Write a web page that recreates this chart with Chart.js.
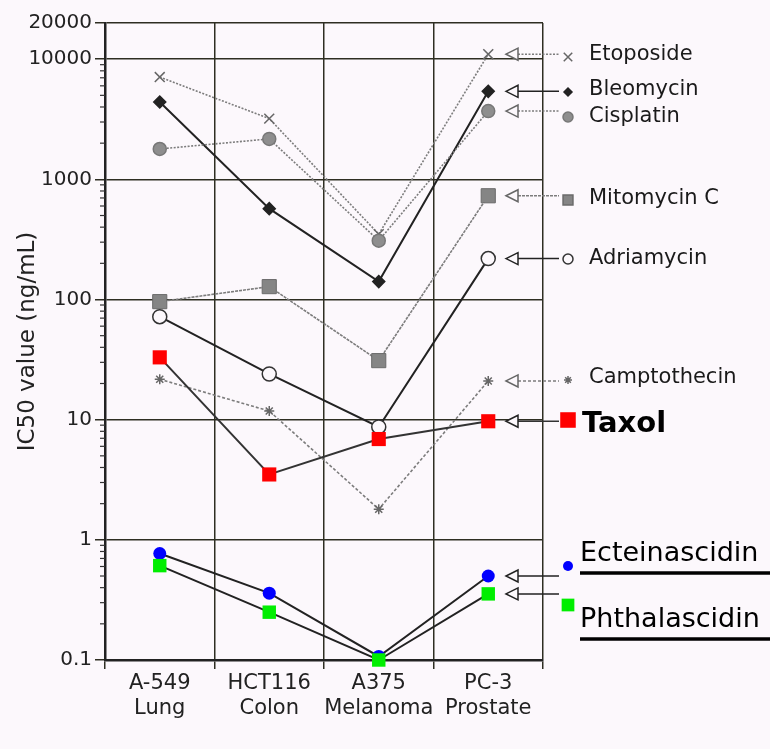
<!DOCTYPE html>
<html>
<head>
<meta charset="utf-8">
<script src="https://cdn.jsdelivr.net/npm/chart.js@4.4.0/dist/chart.umd.min.js"></script>
<style>
  html, body { margin: 0; padding: 0; background: #fcf8fc; }
  #wrap { position: relative; width: 770px; height: 749px; }
</style>
</head>
<body>
<div id="wrap"><canvas id="ic50Chart"></canvas></div>
<script>
// cell lines on the x axis
const cellLines = [["A-549", "Lung"], ["HCT116", "Colon"], ["A375", "Melanoma"], ["PC-3", "Prostate"]];

// y axis ticks (log scale)
const yTicks = [0.1, 1, 10, 100, 1000, 10000, 20000];
const yTickLabels = ["0.1", "1", "10", "100", "1000", "10000", "20000"];
const yMinorTicks = [0.2, 0.3, 0.4, 0.5, 0.6, 0.7, 0.8, 0.9,
                     2, 3, 4, 5, 6, 7, 8, 9,
                     20, 30, 40, 50, 60, 70, 80, 90,
                     200, 300, 400, 500, 600, 700, 800, 900,
                     2000, 3000, 4000, 5000, 6000, 7000, 8000, 9000];

// IC50 values (ng/mL) per cell line
const etoposide     = [7100, 3200, 350, 11000];
const bleomycin     = [4400, 570, 141, 5400];
const cisplatin     = [1790, 2170, 309, 3700];
const mitomycinC    = [96, 128, 31, 730];
const adriamycin    = [72, 24, 8.7, 219];
const camptothecin  = [21.7, 11.8, 1.8, 21];
const taxol         = [33, 3.5, 6.9, 9.7];
const ecteinascidin = [0.77, 0.36, 0.107, 0.50];
const phthalascidin = [0.61, 0.25, 0.1, 0.355];

// right side labels: pixel layout
const noteMarkerY = [57, 92, 117, 200, 259, 380, 420, 566, 605];
const noteTextY   = [55, 90, 117, 199, 259, 378, 424, 554, 620];

const FONT = "'DejaVu Sans', sans-serif";
const GRAY = "#7c7c7c";
const DARK = "#222";

function series(label, data, o) {
    return Object.assign({
        label: label,
        data: data,
        borderWidth: 1.6,
        pointBorderWidth: 1.5,
        clip: false,
        tension: 0
    }, o);
}

const datasets = [
    series("Etoposide", etoposide, {
        borderColor: GRAY, borderDash: [2, 1.5],
        pointStyle: "crossRot", pointRadius: 7, pointBorderColor: "#666", pointBackgroundColor: "#666",
        noteRadius: 6, order: 9
    }),
    series("Bleomycin", bleomycin, {
        borderColor: DARK, borderWidth: 2,
        pointStyle: "rectRot", pointRadius: 6, pointBorderColor: DARK, pointBackgroundColor: DARK,
        noteRadius: 4, order: 8
    }),
    series("Cisplatin", cisplatin, {
        borderColor: GRAY, borderDash: [2, 1.5],
        pointStyle: "circle", pointRadius: 6.5, pointBorderColor: "#777", pointBackgroundColor: "#8e8e8e",
        noteRadius: 5, order: 7
    }),
    series("Mitomycin C", mitomycinC, {
        borderColor: GRAY, borderDash: [3, 1],
        pointStyle: "rect", pointRadius: 10, pointBorderColor: "#6a6a6a", pointBorderWidth: 1, pointBackgroundColor: "#858585",
        noteRadius: 7, order: 6
    }),
    series("Adriamycin", adriamycin, {
        borderColor: DARK, borderWidth: 2,
        pointStyle: "circle", pointRadius: 7, pointBorderColor: "#333", pointBackgroundColor: "#fcf8fc",
        noteRadius: 5, order: 5
    }),
    series("Camptothecin", camptothecin, {
        borderColor: GRAY, borderDash: [3, 2],
        pointStyle: "star", pointRadius: 5, pointBorderColor: "#666", pointBackgroundColor: "#666",
        noteRadius: 4, order: 4
    }),
    series("Taxol", taxol, {
        borderColor: "#333", borderWidth: 2,
        pointStyle: "rect", pointRadius: 10, pointBorderWidth: 0, pointBorderColor: "#ff0000", pointBackgroundColor: "#ff0000",
        noteRadius: 11, order: 1
    }),
    series("Ecteinascidin", ecteinascidin, {
        borderColor: DARK, borderWidth: 2,
        pointStyle: "circle", pointRadius: 6.5, pointBorderWidth: 0, pointBorderColor: "#0000ff", pointBackgroundColor: "#0000ff",
        noteRadius: 5, order: 3
    }),
    series("Phthalascidin", phthalascidin, {
        borderColor: DARK, borderWidth: 2,
        pointStyle: "rect", pointRadius: 9.5, pointBorderWidth: 0, pointBorderColor: "#00ee00", pointBackgroundColor: "#00ee00",
        noteRadius: 9, order: 2
    })
];

// background colour
const bgPlugin = {
    id: "bg",
    beforeDraw(chart) {
        const ctx = chart.ctx;
        ctx.save();
        ctx.fillStyle = "#fcf8fc";
        ctx.fillRect(0, 0, chart.width, chart.height);
        ctx.restore();
    }
};

// minor ticks on the log axis
const minorTickPlugin = {
    id: "minorTicks",
    afterDraw(chart) {
        const s = chart.scales.y;
        const ctx = chart.ctx;
        ctx.save();
        ctx.strokeStyle = "#333";
        ctx.lineWidth = 1.2;
        yMinorTicks.forEach(function (v) {
            const y = s.getPixelForValue(v);
            ctx.beginPath();
            ctx.moveTo(s.right - 5, y);
            ctx.lineTo(s.right, y);
            ctx.stroke();
        });
        ctx.restore();
    }
};

// arrows + labels on the right
const notesPlugin = {
    id: "notes",
    afterDraw(chart) {
        const ctx = chart.ctx;
        ctx.save();
        chart.data.datasets.forEach(function (ds, i) {
            const meta = chart.getDatasetMeta(i);
            const arrowY = meta.data[meta.data.length - 1].y;
            const mx = 568;
            const my = noteMarkerY[i];

            // connector
            ctx.strokeStyle = ds.borderColor;
            ctx.lineWidth = 1.5;
            ctx.setLineDash(ds.borderDash || []);
            ctx.beginPath();
            ctx.moveTo(518, arrowY);
            ctx.lineTo(mx - 9, arrowY);
            ctx.stroke();
            ctx.setLineDash([]);

            // open arrow head
            ctx.fillStyle = "#fcf8fc";
            ctx.strokeStyle = ds.borderColor === GRAY ? "#666" : DARK;
            ctx.beginPath();
            ctx.moveTo(506, arrowY);
            ctx.lineTo(518, arrowY - 6);
            ctx.lineTo(518, arrowY + 6);
            ctx.closePath();
            ctx.fill();
            ctx.stroke();

            // marker
            ctx.fillStyle = ds.pointBackgroundColor;
            ctx.strokeStyle = ds.pointBorderColor;
            Chart.helpers.drawPoint(ctx, {
                pointStyle: ds.pointStyle,
                radius: ds.noteRadius,
                rotation: 0,
                borderWidth: ds.pointBorderWidth
            }, mx, my);

            // label
            ctx.fillStyle = "#1a1a1a";
            ctx.textBaseline = "middle";
            ctx.textAlign = "left";
            if (ds.label === "Taxol") {
                ctx.font = "bold 29px " + FONT;
                ctx.fillStyle = "#000";
                ctx.fillText(ds.label, 582, noteTextY[i]);
            } else if (ds.label === "Ecteinascidin" || ds.label === "Phthalascidin") {
                ctx.font = "27px " + FONT;
                ctx.fillStyle = "#000";
                ctx.fillText(ds.label, 580, noteTextY[i]);
                ctx.strokeStyle = "#000";
                ctx.lineWidth = 3.5;
                ctx.beginPath();
                ctx.moveTo(580, noteTextY[i] + 19);
                ctx.lineTo(770, noteTextY[i] + 19);
                ctx.stroke();
            } else {
                ctx.font = "21px " + FONT;
                ctx.fillText(ds.label, 589, noteTextY[i]);
            }
        });
        ctx.restore();
    }
};

new Chart(document.getElementById("ic50Chart"), {
    type: "line",
    data: {
        labels: cellLines,
        datasets: datasets
    },
    options: {
        responsive: true,
        maintainAspectRatio: false,
        animation: false,
        devicePixelRatio: 1,
        layout: { padding: { top: 23, right: 227, bottom: 0, left: 0 } },
        plugins: {
            legend: { display: false },
            tooltip: { enabled: false }
        },
        scales: {
            x: {
                offset: true,
                grid: { offset: true, color: "#2e2e22", lineWidth: 1.5, tickLength: 9 },
                border: { color: "#222", width: 2.5 },
                ticks: {
                    color: "#222",
                    padding: 2,
                    maxRotation: 0,
                    autoSkip: false,
                    font: { family: FONT, size: 21, lineHeight: 1.2 }
                },
                afterFit: function (s) { s.height = 89; }
            },
            y: {
                type: "logarithmic",
                min: 0.1,
                max: 20000,
                afterBuildTicks: function (s) {
                    s.ticks = yTicks.map(function (v) { return { value: v, major: true }; });
                },
                ticks: {
                    color: "#222",
                    padding: 3,
                    autoSkip: false,
                    font: { family: FONT, size: 20 },
                    callback: function (v, i) { return yTickLabels[i]; }
                },
                grid: { color: "#2e2e22", lineWidth: 1.5, tickLength: 10 },
                border: { color: "#222", width: 2.5 },
                title: {
                    display: true,
                    text: "IC50 value (ng/mL)",
                    color: "#222",
                    font: { family: FONT, size: 23 },
                    padding: { top: 14, bottom: 0 }
                },
                afterFit: function (s) { s.width = 105; }
            }
        }
    },
    plugins: [bgPlugin, minorTickPlugin, notesPlugin]
});
</script>
</body>
</html>
